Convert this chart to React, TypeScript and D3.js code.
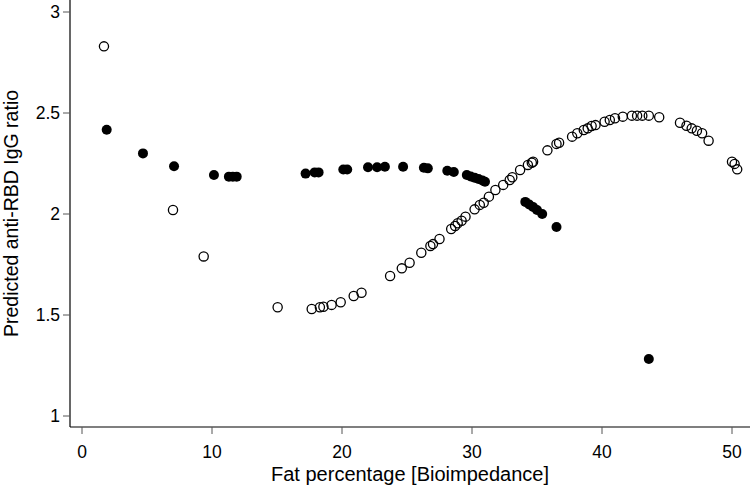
import React from "react";
import * as d3 from "d3";

const openX = [1.69, 7.0, 9.36, 15.05, 17.67, 18.3, 18.57, 19.2, 19.9, 20.9, 21.5, 23.7, 24.6, 25.2, 26.1, 26.8, 27.0, 27.5, 28.4, 28.7, 28.9, 29.2, 29.5, 30.2, 30.6, 30.9, 31.3, 31.8, 32.4, 32.9, 33.1, 33.7, 34.3, 34.6, 34.7, 35.8, 36.5, 36.7, 37.7, 38.1, 38.6, 38.9, 39.2, 39.5, 40.2, 40.6, 41.0, 41.6, 42.3, 42.7, 43.1, 43.6, 44.4, 46.0, 46.5, 46.9, 47.3, 47.7, 48.2, 50.0, 50.2, 50.4];
const openY = [2.83, 2.02, 1.79, 1.538, 1.53, 1.538, 1.541, 1.55, 1.563, 1.594, 1.61, 1.693, 1.731, 1.759, 1.808, 1.842, 1.851, 1.876, 1.926, 1.941, 1.954, 1.967, 1.987, 2.023, 2.045, 2.056, 2.086, 2.119, 2.144, 2.168, 2.182, 2.218, 2.243, 2.254, 2.259, 2.315, 2.347, 2.353, 2.383, 2.4, 2.416, 2.424, 2.436, 2.44, 2.457, 2.465, 2.474, 2.482, 2.487, 2.487, 2.487, 2.487, 2.479, 2.452, 2.437, 2.424, 2.412, 2.4, 2.363, 2.259, 2.248, 2.221];

const filledX = [1.9, 4.69, 7.08, 10.15, 11.3, 11.6, 11.9, 17.2, 17.9, 18.2, 20.1, 20.4, 22.0, 22.7, 23.3, 24.7, 26.3, 26.6, 28.1, 28.6, 29.6, 29.9, 30.2, 30.5, 30.8, 31.0, 34.1, 34.4, 34.7, 35.0, 35.4, 36.5, 43.6];
const filledY = [2.417, 2.3, 2.236, 2.193, 2.185, 2.185, 2.185, 2.2, 2.206, 2.206, 2.22, 2.22, 2.231, 2.231, 2.234, 2.234, 2.229, 2.226, 2.214, 2.208, 2.193, 2.186, 2.18, 2.173, 2.166, 2.16, 2.06, 2.047, 2.035, 2.02, 2.0, 1.936, 1.282];

const xTicks = [0, 10, 20, 30, 40, 50];
const yTicks = [1, 1.5, 2, 2.5, 3];
const yTickLabels = ["1", "1.5", "2", "2.5", "3"];

const xTitle = "Fat percentage [Bioimpedance]";
const yTitle = "Predicted anti-RBD IgG ratio";

export default function App() {
  const W = 750, H = 486;
  const x = d3.scaleLinear().domain([0, 50]).range([82, 732]);
  const y = d3.scaleLinear().domain([1, 3]).range([416, 12]);
  const axisX = 70;
  const axisY = 427;
  const font = "'Liberation Sans', Arial, sans-serif";
  const tickColor = "#555";

  return (
    <svg width={W} height={H} style={{ position: "absolute", left: 0, top: 0, background: "#fff" }} fontFamily={font}>
      <rect width={W} height={H} fill="#fff" />
      <line x1={axisX} y1={0} x2={axisX} y2={axisY} stroke="#000" strokeWidth={1.2} />
      <line x1={axisX} y1={axisY} x2={W} y2={axisY} stroke="#000" strokeWidth={1.2} />
      {yTicks.map((t, i) => (
        <g key={"y" + t}>
          <line x1={axisX - 7} x2={axisX} y1={y(t)} y2={y(t)} stroke={tickColor} strokeWidth={1} />
          <text x={axisX - 10} y={y(t)} dy="0.36em" textAnchor="end" fontSize={17.5} fill="#000">{yTickLabels[i]}</text>
        </g>
      ))}
      {xTicks.map((t) => (
        <g key={"x" + t}>
          <line x1={x(t)} x2={x(t)} y1={axisY} y2={axisY + 7} stroke={tickColor} strokeWidth={1} />
          <text x={x(t)} y={458} textAnchor="middle" fontSize={17.5} fill="#000">{t}</text>
        </g>
      ))}
      <text x={410} y={481} textAnchor="middle" fontSize={20} fill="#000">{xTitle}</text>
      <text transform={`translate(17.5, 213.5) rotate(-90)`} textAnchor="middle" fontSize={19.5} fill="#000">{yTitle}</text>
      {filledX.map((v, i) => (
        <circle key={"f" + i} cx={x(v)} cy={y(filledY[i])} r={5} fill="#000" />
      ))}
      {openX.map((v, i) => (
        <circle key={"o" + i} cx={x(v)} cy={y(openY[i])} r={4.6} fill="none" stroke="#000" strokeWidth={1.3} />
      ))}
    </svg>
  );
}
